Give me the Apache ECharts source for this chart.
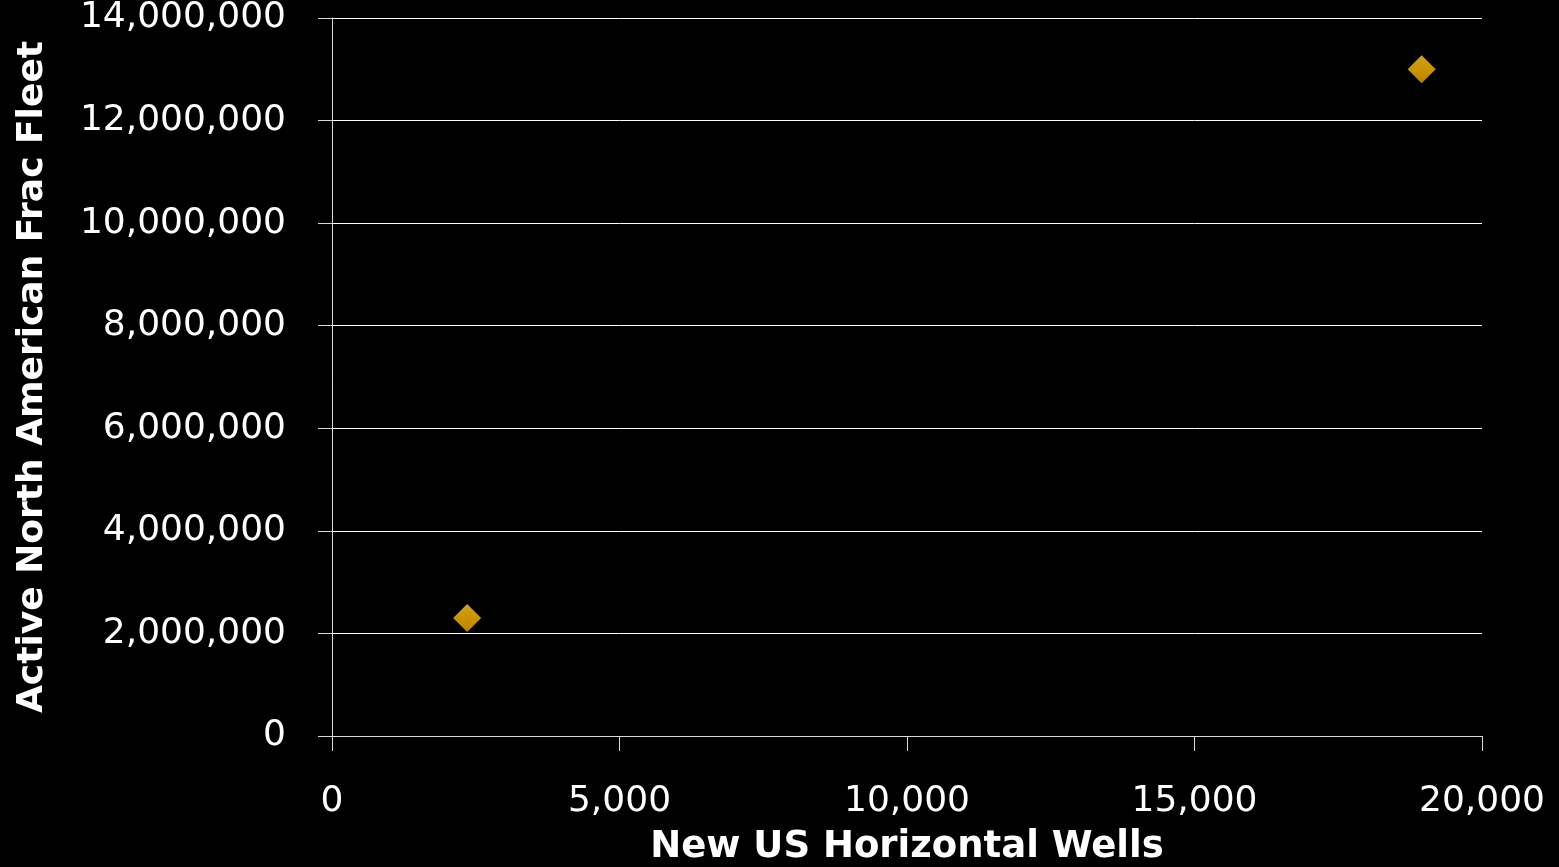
<!DOCTYPE html>
<html>
<head>
<meta charset="utf-8">
<script src="https://cdn.jsdelivr.net/npm/echarts@6/dist/echarts.min.js"></script>
<style>
  html, body { margin: 0; padding: 0; background: #000; }
  #chart { width: 1559px; height: 867px; }
</style>
</head>
<body>
<div id="chart"></div>
<script>
// new US horizontal wells vs active frac fleet
var wells = [2350, 18950];
var fleet = [2300000, 13000000];
var xTicks = [0, 20000, 5000];   // min, max, interval
var yTicks = [0, 14000000, 2000000];

var points = wells.map(function (w, i) { return [w, fleet[i]]; });

function fmt(v) {
  return v.toString().replace(/\B(?=(\d{3})+(?!\d))/g, ',');
}

var chart = echarts.init(document.getElementById('chart'));
var font = '"DejaVu Sans", sans-serif';
chart.setOption({
  backgroundColor: '#000',
  animation: false,
  grid: { left: 332, right: 77, top: 18, bottom: 131, outerBoundsMode: 'none' },
  xAxis: {
    type: 'value',
    min: xTicks[0], max: xTicks[1], interval: xTicks[2],
    name: 'New US Horizontal Wells',
    nameLocation: 'middle',
    nameGap: 93,
    nameTextStyle: { color: '#fff', fontSize: 37, fontWeight: 'bold', fontFamily: font },
    axisLine: { lineStyle: { color: '#d9d9d9', width: 1 } },
    axisTick: { show: true, length: 15, lineStyle: { color: '#d9d9d9' } },
    axisLabel: { color: '#fff', fontSize: 36, fontFamily: font, margin: 48, formatter: fmt },
    splitLine: { show: false }
  },
  yAxis: {
    type: 'value',
    min: yTicks[0], max: yTicks[1], interval: yTicks[2],
    name: 'Active North American Frac Fleet',
    nameLocation: 'middle',
    nameGap: 281,
    nameTextStyle: { color: '#fff', fontSize: 36, fontWeight: 'bold', fontFamily: font },
    axisLine: { show: true, lineStyle: { color: '#d9d9d9', width: 1 } },
    axisTick: { show: true, length: 14, lineStyle: { color: '#d9d9d9' } },
    axisLabel: { color: '#fff', fontSize: 36, fontFamily: font, margin: 46, formatter: fmt },
    splitLine: { show: true, lineStyle: { color: '#ffffff', width: 1 } }
  },
  series: [{
    type: 'scatter',
    data: points,
    symbol: 'diamond',
    symbolSize: 28,
    itemStyle: {
      color: new echarts.graphic.LinearGradient(0, 0, 0, 1, [
        { offset: 0, color: '#ffcb2e' },
        { offset: 0.5, color: '#ffb800' },
        { offset: 1, color: '#eaa200' }
      ])
    }
  }]
});
</script>
</body>
</html>
